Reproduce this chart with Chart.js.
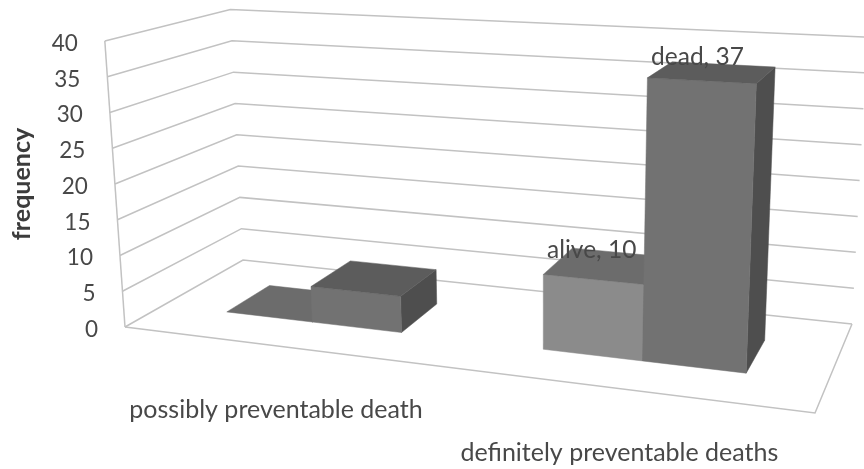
<!DOCTYPE html>
<html>
<head>
<meta charset="utf-8">
<style>
  html, body { margin: 0; padding: 0; background: #fff; }
  #chart { display: block; filter: blur(0.6px); }
</style>
<script src="https://cdn.jsdelivr.net/npm/chart.js@4"></script>
</head>
<body>
<div style="width:864px;height:469px"><canvas id="chart"></canvas></div>
<script>
const categories = ['possibly preventable death', 'definitely preventable deaths'];
const aliveValues = [0, 10];
const deadValues = [5, 37];
const tickStep = 5;
const tickMax = 40;
const labelledCategory = 1;

// floor of the 3D box, unit square -> screen (homography from the four corners)
const FL = [125, 327], FR = [815, 413], BR = [852, 324], BL = [243, 260];
const BAR_FRONT = 0.306, BAR_BACK = 0.69;
const TILT = 0.00017, TILT_X = 540;

const dx1 = FR[0] - BR[0], dx2 = BL[0] - BR[0], sx = FL[0] - FR[0] + BR[0] - BL[0];
const dy1 = FR[1] - BR[1], dy2 = BL[1] - BR[1], sy = FL[1] - FR[1] + BR[1] - BL[1];
const den = dx1 * dy2 - dx2 * dy1;
const g = (sx * dy2 - dx2 * sy) / den;
const h = (dx1 * sy - sx * dy1) / den;

// u along the categories, v into the depth, px = height in y scale pixels
function project(u, v, px) {
  const w = 1 + g * u + h * v;
  const x = ((FR[0] - FL[0] + g * FR[0]) * u + (BL[0] - FL[0] + h * BL[0]) * v + FL[0]) / w;
  const y = ((FR[1] - FL[1] + g * FR[1]) * u + (BL[1] - FL[1] + h * BL[1]) * v + FL[1]) / w;
  const up = px / w;
  return [x + up * (x - TILT_X) * TILT, y - up];
}

function face(ctx, pts, color) {
  ctx.beginPath();
  pts.forEach((p, i) => i ? ctx.lineTo(p[0], p[1]) : ctx.moveTo(p[0], p[1]));
  ctx.closePath();
  ctx.fillStyle = color;
  ctx.strokeStyle = color;
  ctx.lineWidth = 0.5;
  ctx.fill();
  ctx.stroke();
}

function segment(ctx, pts) {
  ctx.beginPath();
  pts.forEach((p, i) => i ? ctx.lineTo(p[0], p[1]) : ctx.moveTo(p[0], p[1]));
  ctx.stroke();
}

const box3d = {
  id: 'box3d',
  beforeDatasetsDraw(chart) {
    const ctx = chart.ctx;
    const area = chart.chartArea;
    const yScale = chart.scales.y;
    const base = yScale.getPixelForValue(0);
    const toU = x => (x - area.left) / area.width;

    ctx.save();
    // walls
    ctx.strokeStyle = '#c2c2c2';
    ctx.lineWidth = 1.5;
    yScale.ticks.forEach(t => {
      const px = base - yScale.getPixelForValue(t.value);
      segment(ctx, [project(0, 0, px), project(0, 1, px), project(1, 1, px)]);
    });
    segment(ctx, [project(0, 0, 0), project(0, 0, base - yScale.getPixelForValue(tickMax))]);
    segment(ctx, [project(0, 0, 0), project(1, 0, 0), project(1, 1, 0)]);

    // y tick labels follow the slanted left edge
    ctx.font = '22.5px Lato';
    ctx.fillStyle = '#484848';
    ctx.textAlign = 'right';
    ctx.textBaseline = 'middle';
    yScale.ticks.forEach(t => {
      const p = project(0, 0, base - yScale.getPixelForValue(t.value));
      ctx.fillText(t.label, p[0] - 27, p[1] + 2.5);
    });

    // bars
    chart.data.datasets.forEach((ds, di) => {
      chart.getDatasetMeta(di).data.forEach((bar, i) => {
        const u0 = toU(bar.x - bar.width / 2), u1 = toU(bar.x + bar.width / 2);
        const px = base - bar.y;
        const fl = project(u0, BAR_FRONT, 0), fr = project(u1, BAR_FRONT, 0);
        const br = project(u1, BAR_BACK, 0);
        const tfl = project(u0, BAR_FRONT, px), tfr = project(u1, BAR_FRONT, px);
        const tbl = project(u0, BAR_BACK, px), tbr = project(u1, BAR_BACK, px);
        face(ctx, [fr, br, tbr, tfr], ds.sideColor);
        if (px > 0) face(ctx, [fl, fr, tfr, tfl], ds.backgroundColor);
        face(ctx, [tfl, tfr, tbr, tbl], ds.topColor);
      });
    });

    // value labels
    ctx.font = '24.5px Lato';
    ctx.fillStyle = '#484848';
    ctx.textAlign = 'center';
    chart.data.datasets.forEach((ds, di) => {
      const bar = chart.getDatasetMeta(di).data[labelledCategory];
      const p = project(toU(bar.x), (BAR_FRONT + BAR_BACK) / 2, base - bar.y);
      ctx.fillText(ds.label + ', ' + ds.data[labelledCategory], p[0] - 15, p[1] - 15);
    });

    // category labels under the front edge
    ctx.font = '25px Lato';
    chart.scales.x.ticks.forEach((t, i) => {
      const p = project(toU(chart.scales.x.getPixelForTick(i)), 0, 0);
      ctx.fillText(categories[i], p[0] - 2, p[1] + 64);
    });
    ctx.restore();
    return false;
  }
};

new Chart(document.getElementById('chart'), {
  type: 'bar',
  data: {
    labels: categories,
    datasets: [
      { label: 'alive', data: aliveValues, backgroundColor: '#8b8b8b', topColor: '#6c6c6c', sideColor: '#555555' },
      { label: 'dead', data: deadValues, backgroundColor: '#727272', topColor: '#5c5c5c', sideColor: '#4e4e4e' }
    ]
  },
  options: {
    responsive: true,
    maintainAspectRatio: false,
    animation: false,
    layout: { padding: { top: 41, bottom: 142, left: 3, right: 0 } },
    datasets: { bar: { categoryPercentage: 0.57, barPercentage: 1 } },
    plugins: { legend: { display: false }, tooltip: { enabled: false } },
    scales: {
      x: { display: false },
      y: {
        min: 0,
        max: tickMax,
        grid: { display: false },
        border: { display: false },
        ticks: { display: false, stepSize: tickStep },
        title: {
          display: true,
          text: 'frequency',
          color: '#3c3c3c',
          font: { family: 'Lato', size: 25, weight: 'bold' }
        }
      }
    }
  },
  plugins: [box3d]
});
</script>
</body>
</html>
